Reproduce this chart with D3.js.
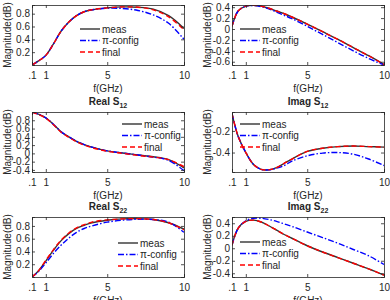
<!DOCTYPE html>
<html><head><meta charset="utf-8">
<script src="https://cdn.jsdelivr.net/npm/d3@7"></script>
<style>body{margin:0;background:#fff}svg{display:block}text{font-family:"Liberation Sans",Arial,sans-serif;fill:#262626}</style>
</head><body><svg id="c" width="390" height="300"></svg>
<script>
const freq = [0.1,0.5,1,1.5,2,2.5,3,3.5,4,5,6,7,8,9,10];
const xTicks = [0.1,1,5,10];
const xTickLabels = [".1","1","5","10"];
const seriesNames = ["meas","\u03c0-config","final"];
const colors = ["#333333","#0000ff","#ff0000"];

// Real S11
const s11reMeas  = [0.00,0.06,0.15,0.33,0.53,0.67,0.77,0.83,0.86,0.89,0.905,0.90,0.87,0.77,0.57];
const s11rePi    = [0.00,0.06,0.15,0.33,0.53,0.67,0.77,0.83,0.86,0.885,0.88,0.85,0.78,0.65,0.40];
const s11reFinal = [0.00,0.06,0.15,0.33,0.53,0.67,0.77,0.83,0.86,0.89,0.905,0.90,0.86,0.75,0.55];
// Imag S11
const s11imMeas  = [0.05,0.33,0.42,0.435,0.42,0.38,0.33,0.28,0.22,0.09,-0.05,-0.19,-0.34,-0.49,-0.65];
const s11imPi    = [0.05,0.33,0.42,0.43,0.41,0.37,0.31,0.25,0.19,0.05,-0.10,-0.25,-0.40,-0.54,-0.66];
const s11imFinal = [0.05,0.33,0.42,0.435,0.42,0.38,0.33,0.28,0.22,0.09,-0.05,-0.19,-0.34,-0.49,-0.65];
// Real S12
const s12reMeas  = [1.00,0.95,0.86,0.70,0.52,0.40,0.29,0.21,0.15,0.06,0.01,-0.04,-0.08,-0.15,-0.35];
const s12rePi    = [1.00,0.95,0.86,0.70,0.52,0.40,0.29,0.21,0.15,0.06,0.01,-0.04,-0.09,-0.17,-0.42];
const s12reFinal = [1.00,0.94,0.85,0.69,0.51,0.39,0.28,0.20,0.14,0.05,0.00,-0.05,-0.09,-0.15,-0.32];
// Imag S12
const s12imMeas  = [-0.04,-0.25,-0.40,-0.51,-0.555,-0.56,-0.54,-0.50,-0.46,-0.39,-0.36,-0.345,-0.34,-0.345,-0.35];
const s12imPi    = [-0.04,-0.25,-0.40,-0.51,-0.555,-0.56,-0.545,-0.52,-0.48,-0.43,-0.405,-0.40,-0.415,-0.46,-0.52];
const s12imFinal = [-0.04,-0.25,-0.40,-0.51,-0.555,-0.56,-0.54,-0.50,-0.46,-0.39,-0.36,-0.345,-0.34,-0.345,-0.35];
// Real S22
const s22reMeas  = [0.00,0.09,0.25,0.42,0.57,0.68,0.76,0.81,0.85,0.89,0.91,0.915,0.90,0.85,0.75];
const s22rePi    = [0.00,0.08,0.22,0.37,0.50,0.61,0.70,0.76,0.80,0.86,0.89,0.905,0.90,0.86,0.70];
const s22reFinal = [0.00,0.09,0.26,0.43,0.58,0.69,0.77,0.82,0.86,0.895,0.91,0.915,0.90,0.85,0.74];
// Imag S22
const s22imMeas  = [0.05,0.32,0.43,0.45,0.42,0.36,0.29,0.22,0.16,0.04,-0.06,-0.15,-0.24,-0.33,-0.43];
const s22imPi    = [0.05,0.32,0.44,0.48,0.48,0.46,0.43,0.39,0.35,0.26,0.17,0.08,-0.02,-0.12,-0.26];
const s22imFinal = [0.05,0.32,0.43,0.45,0.42,0.36,0.29,0.22,0.16,0.04,-0.06,-0.15,-0.24,-0.33,-0.43];

const titles = [null,null,["Real S","12"],["Imag S","12"],["Real S","22"],["Imag S","22"]];
const yDomains = [[0,0.935],[-0.66,0.44],[-0.45,1.0],[-0.58,-0.025],[0,0.94],[-0.46,0.5]];
const yTicks = [[0.2,0.4,0.6,0.8],[-0.6,-0.4,-0.2,0,0.2,0.4],[-0.4,-0.2,0,0.2,0.4,0.6,0.8],[-0.4,-0.2],[0.2,0.4,0.6,0.8],[-0.4,-0.2,0,0.2,0.4]];
const panelData = [
  [s11reMeas,s11rePi,s11reFinal],[s11imMeas,s11imPi,s11imFinal],
  [s12reMeas,s12rePi,s12reFinal],[s12imMeas,s12imPi,s12imFinal],
  [s22reMeas,s22rePi,s22reFinal],[s22imMeas,s22imPi,s22imFinal]];

// layout
const colX = [32,232], plotW = 152, rowY = [5,112,217], plotH = 60;
const legendPos = [[80,29],[240,29],[122,124],[240,124],[118,243],[240,242]];
const dashes = [null,"6,2,1.5,2","5,3"];

const svg = d3.select("#c");
const fmt = v => { let s = String(+v.toFixed(2)); return s === "-0" ? "0" : s; };

panelData.forEach((series,i)=>{
  const col = i%2, row = Math.floor(i/2);
  const x0 = colX[col], y0 = rowY[row];
  const x = d3.scaleLinear().domain([0.1,10]).range([x0,x0+plotW]);
  const y = d3.scaleLinear().domain(yDomains[i]).range([y0+plotH,y0]);
  const g = svg.append("g");
  const line = d3.line().x((d,k)=>x(freq[k])).y(d=>y(d)).curve(d3.curveCatmullRom.alpha(0.5));
  const clipId = "clip"+i;
  svg.append("clipPath").attr("id",clipId).append("rect").attr("x",x0).attr("y",y0).attr("width",plotW).attr("height",plotH);
  series.forEach((s,k)=>{
    g.append("path").attr("d",line(s)).attr("fill","none").attr("stroke",colors[k])
     .attr("stroke-width",1.4).attr("stroke-dasharray",dashes[k]).attr("clip-path",`url(#${clipId})`);
  });
  const ax = g.append("g").attr("transform",`translate(0,${y0+plotH})`)
    .call(d3.axisBottom(x).tickValues(xTicks).tickFormat((d,k)=>xTickLabels[k]).tickSize(-3).tickPadding(7));
  const axT = g.append("g").attr("transform",`translate(0,${y0})`)
    .call(d3.axisTop(x).tickValues(xTicks).tickSize(-3).tickFormat(""));
  const ay = g.append("g").attr("transform",`translate(${x0},0)`)
    .call(d3.axisLeft(y).tickValues(yTicks[i]).tickFormat(fmt).tickSize(-3).tickPadding(2));
  const ayR = g.append("g").attr("transform",`translate(${x0+plotW},0)`)
    .call(d3.axisRight(y).tickValues(yTicks[i]).tickSize(-3).tickFormat(""));
  [ax,axT,ay,ayR].forEach(a=>{
    a.select(".domain").attr("stroke","#262626").attr("stroke-width",0.8);
    a.selectAll(".tick line").attr("stroke","#262626").attr("stroke-width",0.8);
    a.selectAll("text").attr("font-size",10).attr("fill","#262626").attr("font-family","Liberation Sans, Arial, sans-serif");
  });
  g.append("text").attr("x",x0+plotW/2).attr("y",y0+plotH+27).attr("text-anchor","middle").attr("font-size",10).text("f(GHz)");
  g.append("text").attr("transform",`translate(${x0-21},${y0+plotH/2}) rotate(-90)`).attr("text-anchor","middle").attr("font-size",10).text("Magnitude(dB)");
  if(titles[i]){
    const t = g.append("text").attr("x",x0+plotW/2).attr("y",y0-7).attr("text-anchor","middle").attr("font-size",10).attr("font-weight","bold");
    t.append("tspan").text(titles[i][0]);
    t.append("tspan").attr("font-size",7).attr("dy",3).text(titles[i][1]);
  }
  const [lx,ly] = legendPos[i];
  seriesNames.forEach((n,k)=>{
    const yy = ly + k*11.5;
    g.append("line").attr("x1",lx).attr("x2",lx+20).attr("y1",yy).attr("y2",yy)
     .attr("stroke",colors[k]).attr("stroke-width",1.4).attr("stroke-dasharray",dashes[k]);
    g.append("text").attr("x",lx+22).attr("y",yy+3.5).attr("font-size",10).text(n);
  });
});
</script></body></html>
